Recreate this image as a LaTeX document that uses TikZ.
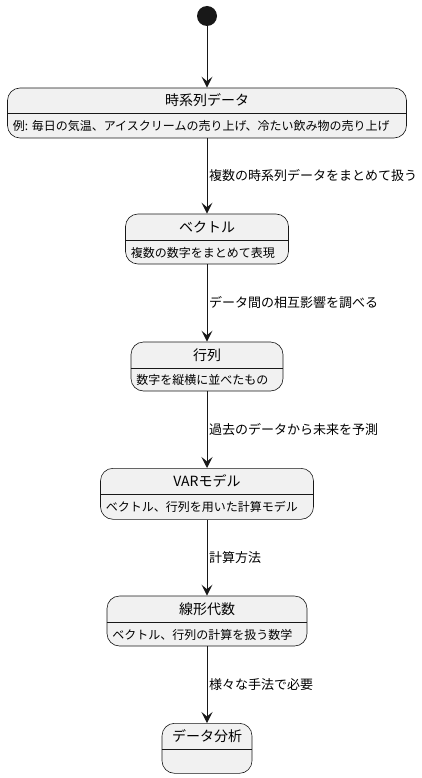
\documentclass[tikz,border=0pt]{standalone}
\usepackage{fontspec}
\setmainfont{Noto Sans CJK JP}
\usetikzlibrary{arrows.meta}
\definecolor{boxfill}{HTML}{F1F1F1}
\definecolor{boxline}{HTML}{181818}
\begin{document}
\begin{tikzpicture}[x=1pt,y=-1pt,
  statebox/.style={draw=boxline, fill=boxfill, rounded corners=12.5pt, line width=0.6pt, inner sep=0pt},
  divider/.style={draw=boxline, line width=0.6pt},
  titletext/.style={font=\fontsize{14}{16}\selectfont, inner sep=0pt},
  bodytext/.style={font=\fontsize{12}{14}\selectfont, inner sep=0pt, anchor=west},
  flow/.style={draw=boxline, line width=1pt, -{Stealth[length=11pt,width=11pt,inset=4.5pt]}},
  flowlabel/.style={font=\fontsize{13}{15}\selectfont, right, inner sep=1.5pt}]
\useasboundingbox (0,0) rectangle (422,778);

\node[circle, fill=boxline, minimum size=20pt, inner sep=0pt] (start) at (207,16) {};

% box 1
\node[statebox, minimum width=399pt, minimum height=50pt] (b1) at (207,113) {};
\coordinate (c1) at (207,113);
\draw[divider] (b1.west |- c1) -- (b1.east |- c1);
\node[titletext] (t1) at (207,100.5) {時系列データ};
\node[bodytext] (d1) at ([xshift=5.5pt]b1.west |- 0,125.5) {例: 毎日の気温、アイスクリームの売り上げ、冷たい飲み物の売り上げ};

% box 2
\node[statebox, minimum width=163pt, minimum height=50pt] (b2) at (207,239) {};
\coordinate (c2) at (207,240);
\draw[divider] (b2.west |- c2) -- (b2.east |- c2);
\node[titletext] (t2) at (207,227) {ベクトル};
\node[bodytext] (d2) at ([xshift=5.5pt]b2.west |- 0,252.5) {複数の数字をまとめて表現};

% box 3
\node[statebox, minimum width=152pt, minimum height=49pt] (b3) at (207,366.5) {};
\coordinate (c3) at (207,368);
\draw[divider] (b3.west |- c3) -- (b3.east |- c3);
\node[titletext] (t3) at (207,355) {行列};
\node[bodytext] (d3) at ([xshift=5.5pt]b3.west |- 0,380) {数字を縦横に並べたもの};

% box 4
\node[statebox, minimum width=213pt, minimum height=51pt] (b4) at (207,493.8) {};
\coordinate (c4) at (207,494.3);
\draw[divider] (b4.west |- c4) -- (b4.east |- c4);
\node[titletext] (t4) at (207,481) {VARモデル};
\node[bodytext] (d4) at ([xshift=5.5pt]b4.west |- 0,506.8) {ベクトル、行列を用いた計算モデル};

% box 5
\node[statebox, minimum width=200pt, minimum height=50pt] (b5) at (207,621) {};
\coordinate (c5) at (207,622);
\draw[divider] (b5.west |- c5) -- (b5.east |- c5);
\node[titletext] (t5) at (207,609) {線形代数};
\node[bodytext] (d5) at ([xshift=5.5pt]b5.west |- 0,634.5) {ベクトル、行列の計算を扱う数学};

% box 6
\node[statebox, minimum width=90pt, minimum height=50pt] (b6) at (207,748.3) {};
\coordinate (c6) at (207,749.3);
\draw[divider] (b6.west |- c6) -- (b6.east |- c6);
\node[titletext] (t6) at (207,736) {データ分析};

% connectors
\draw[flow] (start) -- (b1.north);
\draw[flow] (b1.south) -- node[flowlabel] (l1) {複数の時系列データをまとめて扱う} (b2.north);
\draw[flow] (b2.south) -- node[flowlabel] (l2) {データ間の相互影響を調べる} (b3.north);
\draw[flow] (b3.south) -- node[flowlabel] (l3) {過去のデータから未来を予測} (b4.north);
\draw[flow] (b4.south) -- node[flowlabel] (l4) {計算方法} (b5.north);
\draw[flow] (b5.south) -- node[flowlabel] (l5) {様々な手法で必要} (b6.north);
\end{tikzpicture}
\end{document}
